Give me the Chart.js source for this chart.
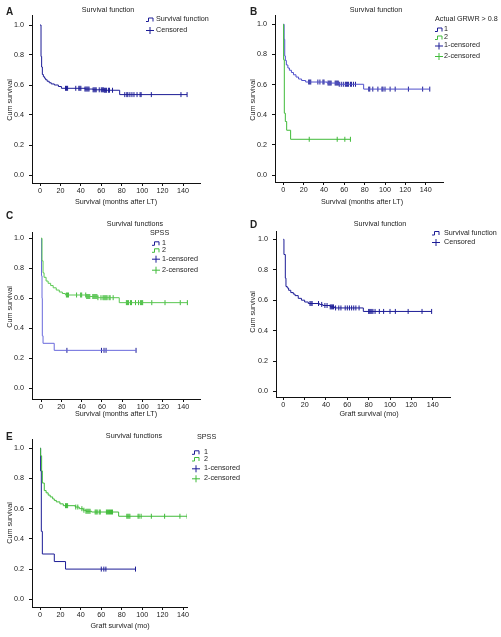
<!DOCTYPE html>
<html>
<head>
<meta charset="utf-8">
<script src="https://cdn.jsdelivr.net/npm/chart.js@4.4.1/dist/chart.umd.min.js"></script>
<style>
  html, body { margin: 0; padding: 0; background: #fff; }
  #page { position: relative; width: 501px; height: 637px; overflow: hidden; }
  canvas { position: absolute; }
</style>
</head>
<body>
<div id="page">
  <canvas id="chartA" width="250" height="210" style="left:0;top:0"></canvas>
  <canvas id="chartB" width="251" height="210" style="left:250px;top:0"></canvas>
  <canvas id="chartC" width="250" height="222" style="left:0;top:200px"></canvas>
  <canvas id="chartD" width="251" height="222" style="left:250px;top:200px"></canvas>
  <canvas id="chartE" width="250" height="232" style="left:0;top:405px"></canvas>
</div>
<script>
// --- tick labels ---
const xTicks = [0, 20, 40, 60, 80, 100, 120, 140];
const yTicks = [0, 0.2, 0.4, 0.6, 0.8, 1.0];

// --- A: overall patient survival ---
const aTimes = [0, 1, 1.6, 2.3, 3.3, 4.5, 5.5, 7, 9, 11, 14, 18, 21, 44, 52, 63, 78, 144];
const aSurv = [1, 0.79, 0.72, 0.67, 0.655, 0.645, 0.635, 0.625, 0.615, 0.607, 0.60, 0.59, 0.578, 0.573, 0.568, 0.565, 0.536, 0.536];
const aCensor = [25, 26, 27, 35, 38, 39, 40, 44, 45, 46, 47, 48, 52, 53, 54, 55, 58, 60, 61, 62, 63, 64, 65, 67, 68, 71, 83, 85, 86, 88, 90, 92, 95, 98, 99, 109, 138, 144];

// --- B: by actual GRWR > 0.8 ---
const b1Times = [0, 0.8, 1.4, 2, 3, 4.5, 6, 8, 10, 12.5, 15, 18, 22, 43, 55, 79, 144];
const b1Surv = [1, 0.9, 0.79, 0.76, 0.73, 0.71, 0.695, 0.68, 0.665, 0.65, 0.637, 0.627, 0.617, 0.61, 0.602, 0.57, 0.57];
const b1Censor = [25, 26, 27, 34, 36, 39, 40, 44, 45, 46, 47, 51, 52, 53, 54, 55, 57, 59, 61, 62, 63, 64, 66, 67, 69, 71, 84, 85, 88, 93, 97, 98, 100, 105, 110, 123, 137, 144];
const b2Times = [0, 0.3, 1, 2, 3.3, 7.2, 66];
const b2Surv = [1, 0.765, 0.41, 0.355, 0.297, 0.237, 0.237];
const b2Censor = [25.5, 53, 60.5, 66];

// --- C: patient survival by SFSS ---
const c1Times = [0, 0.5, 1, 1.3, 2, 13, 93.5];
const c1Surv = [1, 0.75, 0.6, 0.35, 0.30, 0.253, 0.253];
const c1Censor = [25.5, 59.5, 62, 64, 93.5];
const c2Times = [0, 1, 2, 3, 5, 7, 9.5, 12, 15, 18, 21, 24, 44.5, 56, 77, 144];
const c2Surv = [1, 0.85, 0.77, 0.74, 0.715, 0.7, 0.685, 0.67, 0.655, 0.642, 0.632, 0.622, 0.612, 0.604, 0.571, 0.571];
const c2Censor = [25, 26, 27, 35, 39, 40, 44, 45, 46, 47, 48, 51, 52, 53, 54, 55, 56, 59, 61, 62, 63, 64, 65, 67, 68, 71, 84, 85, 86, 88, 89, 93, 96, 98, 99, 100, 109, 122, 137, 144];

// --- D: overall graft survival ---
const dTimes = [0, 0.6, 1.9, 2.5, 3.7, 5, 7, 9.4, 11, 14, 17, 20, 23.4, 34, 37, 44, 48, 75, 139];
const dSurv = [1, 0.9, 0.745, 0.69, 0.68, 0.665, 0.65, 0.64, 0.63, 0.612, 0.60, 0.588, 0.578, 0.572, 0.565, 0.556, 0.549, 0.526, 0.526];
const dCensor = [25, 26, 27, 33, 36, 39, 41, 44, 45, 46, 47, 49, 52, 54, 58, 60, 62, 64, 66, 68, 71, 80, 81, 82, 83, 84, 86, 90, 94, 100, 105, 117, 130, 139];

// --- E: graft survival by SFSS ---
const e1Times = [0, 0.6, 1.3, 2.3, 14, 25, 93.5];
const e1Surv = [1, 0.85, 0.45, 0.30, 0.25, 0.20, 0.20];
const e1Censor = [60, 62.5, 64.5, 93.5];
const e2Times = [0, 0.6, 1.6, 2.3, 4.2, 6, 8, 10, 12.4, 14, 16, 19.5, 22.8, 34.5, 38.4, 42.3, 45, 50.5, 77, 144];
const e2Surv = [1, 0.95, 0.85, 0.77, 0.72, 0.705, 0.69, 0.678, 0.665, 0.655, 0.645, 0.632, 0.62, 0.611, 0.60, 0.59, 0.583, 0.578, 0.55, 0.55];
const e2Censor = [25, 26, 27, 35, 37, 41, 43, 45, 46, 47, 48, 49, 54, 55, 56, 58, 59, 65, 66, 67, 68, 69, 70, 71, 85, 86, 87, 88, 96, 97, 99, 109, 122, 137, 144];

const NAVY = '#1c1c96';
const FONT = 'Liberation Sans, Arial, sans-serif';
const TXT = '#222';
const FS = 7.2;

function stepAt(times, surv, t) {
    let v = surv[0];
    for (let i = 0; i < times.length; i++) if (times[i] <= t) v = surv[i];
    return v;
}

function curve(times, surv, color) {
    return {
        data: times.map((t, i) => ({ x: t, y: surv[i] })),
        stepped: true, borderColor: color, borderWidth: 1,
        pointRadius: 0, fill: false
    };
}
function censored(times, surv, cens, color) {
    return {
        data: cens.map(t => ({ x: t, y: stepAt(times, surv, t) })),
        showLine: false, pointStyle: 'line', rotation: 90,
        pointRadius: 2.5, borderColor: color, borderWidth: 1
    };
}

// draws panel letter, title, axis titles and SPSS-like legend
const panelText = {
    id: 'panelText',
    afterDraw(chart, args, o) {
        const ctx = chart.ctx;
        ctx.save();
        ctx.fillStyle = TXT;
        ctx.textBaseline = 'middle';
        ctx.font = 'bold 10px ' + FONT;
        ctx.textAlign = 'left';
        ctx.fillText(o.letter.t, o.letter.x, o.letter.y);
        ctx.font = FS + 'px ' + FONT;
        ctx.textAlign = 'center';
        ctx.fillText(o.title.t, o.title.x, o.title.y);
        ctx.fillText(o.xTitle.t, o.xTitle.x, o.xTitle.y);
        ctx.save();
        ctx.translate(o.yTitle.x, o.yTitle.y);
        ctx.rotate(-Math.PI / 2);
        ctx.fillText('Cum survival', 0, 0);
        ctx.restore();
        const lg = o.legend;
        ctx.textAlign = 'left';
        if (lg.title) ctx.fillText(lg.title, lg.titleX, lg.titleY);
        lg.rows.forEach(r => {
            ctx.strokeStyle = r.color;
            ctx.lineWidth = 1;
            ctx.beginPath();
            const x = lg.x, y = r.y;
            if (r.kind === 'step') {
                ctx.moveTo(x, y + 2); ctx.lineTo(x + 2.5, y + 2); ctx.lineTo(x + 2.5, y - 1.5);
                ctx.lineTo(x + 7, y - 1.5); ctx.lineTo(x + 7, y + 2);
            } else {
                ctx.moveTo(x, y + 0.5); ctx.lineTo(x + 8, y + 0.5);
                ctx.moveTo(x + 4, y - 3); ctx.lineTo(x + 4, y + 4);
            }
            ctx.stroke();
            ctx.fillText(r.label, lg.tx, y);
        });
        ctx.restore();
    }
};

function makePanel(id, g, datasets, text) {
    const canvas = document.getElementById(id);
    const w = canvas.width, h = canvas.height;
    const yUnit = g.y0px - g.y1px;
    const xUnit = (g.x140px - g.x0px) / 140;
    const axisColor = '#111';
    const common = {
        grid: { display: true, drawOnChartArea: false, drawTicks: true, tickLength: 3, color: axisColor, lineWidth: 1 },
        border: { display: true, color: axisColor, width: 1 }
    };
    return new Chart(canvas, {
        type: 'line',
        data: { datasets: datasets },
        options: {
            responsive: false,
            animation: false,
            layout: { padding: { left: 0, top: g.t, right: w - g.r, bottom: 0 } },
            plugins: { legend: { display: false }, tooltip: { enabled: false }, panelText: text },
            scales: {
                x: Object.assign({
                    type: 'linear',
                    min: -(g.x0px - g.l) / xUnit,
                    max: (g.r - g.x0px) / xUnit,
                    afterBuildTicks: s => { s.ticks = xTicks.map(v => ({ value: v })); },
                    afterFit: s => { s.height = h - g.b; },
                    ticks: { font: { family: FONT, size: FS }, color: TXT, padding: 1, maxRotation: 0, autoSkip: false }
                }, common),
                y: Object.assign({
                    type: 'linear',
                    min: -(g.b - g.y0px) / yUnit,
                    max: 1 + (g.y1px - g.t) / yUnit,
                    afterBuildTicks: s => { s.ticks = yTicks.map(v => ({ value: v })); },
                    afterFit: s => { s.width = g.l; },
                    ticks: { font: { family: FONT, size: FS }, color: TXT, padding: 5, callback: v => v.toFixed(1) }
                }, common)
            }
        },
        plugins: [panelText]
    });
}

const BLUE_LIGHT = '#5050cc';
const GREEN = '#40bb3a';
const GREEN_LIGHT = '#5ac852';

makePanel('chartA',
    { l: 32, r: 200, t: 15, b: 183, y1px: 25, y0px: 175, x0px: 40, x140px: 183 },
    [curve(aTimes, aSurv, NAVY), censored(aTimes, aSurv, aCensor, NAVY)],
    {
        letter: { t: 'A', x: 6, y: 12 }, title: { t: 'Survival function', x: 108, y: 10 },
        xTitle: { t: 'Survival (months after LT)', x: 116, y: 202 }, yTitle: { x: 10, y: 100 },
        legend: { x: 146, tx: 156, rows: [
            { kind: 'step', color: NAVY, label: 'Survival function', y: 19.5 },
            { kind: 'cross', color: NAVY, label: 'Censored', y: 30 }] }
    });

makePanel('chartB',
    { l: 25, r: 193, t: 15, b: 182, y1px: 24.3, y0px: 175, x0px: 33.3, x140px: 175.7 },
    [curve(b2Times, b2Surv, GREEN), curve(b1Times, b1Surv, BLUE_LIGHT),
     censored(b1Times, b1Surv, b1Censor, NAVY), censored(b2Times, b2Surv, b2Censor, GREEN)],
    {
        letter: { t: 'B', x: 0, y: 12 }, title: { t: 'Survival function', x: 126, y: 10 },
        xTitle: { t: 'Survival (months after LT)', x: 112, y: 202 }, yTitle: { x: 3, y: 100 },
        legend: { title: 'Actual GRWR > 0.8', titleX: 185, titleY: 19.5, x: 185, tx: 194, rows: [
            { kind: 'step', color: NAVY, label: '1', y: 29.5 },
            { kind: 'step', color: GREEN, label: '2', y: 37.5 },
            { kind: 'cross', color: NAVY, label: '1-censored', y: 45.5 },
            { kind: 'cross', color: GREEN, label: '2-censored', y: 56 }] }
    });

makePanel('chartC',
    { l: 32, r: 200, t: 32, b: 199, y1px: 38.3, y0px: 188.3, x0px: 41, x140px: 183.3 },
    [curve(c2Times, c2Surv, GREEN_LIGHT), curve(c1Times, c1Surv, '#6a6adc'),
     censored(c1Times, c1Surv, c1Censor, NAVY), censored(c2Times, c2Surv, c2Censor, GREEN)],
    {
        letter: { t: 'C', x: 6, y: 16 }, title: { t: 'Survival functions', x: 135, y: 24 },
        xTitle: { t: 'Survival (months after LT)', x: 116, y: 214 }, yTitle: { x: 10, y: 107 },
        legend: { title: 'SPSS', titleX: 150, titleY: 33.3, x: 152, tx: 162, rows: [
            { kind: 'step', color: NAVY, label: '1', y: 43.3 },
            { kind: 'step', color: GREEN, label: '2', y: 50.3 },
            { kind: 'cross', color: NAVY, label: '1-censored', y: 58.7 },
            { kind: 'cross', color: GREEN, label: '2-censored', y: 69.7 }] }
    });

makePanel('chartD',
    { l: 26, r: 200, t: 31, b: 197, y1px: 39.3, y0px: 191.5, x0px: 33.3, x140px: 182.7 },
    [curve(dTimes, dSurv, NAVY), censored(dTimes, dSurv, dCensor, NAVY)],
    {
        letter: { t: 'D', x: 0, y: 25 }, title: { t: 'Survival function', x: 130, y: 24 },
        xTitle: { t: 'Graft survival (mo)', x: 119, y: 214 }, yTitle: { x: 3, y: 112 },
        legend: { x: 182, tx: 194, rows: [
            { kind: 'step', color: NAVY, label: 'Survival function', y: 33 },
            { kind: 'cross', color: NAVY, label: 'Censored', y: 42 }] }
    });

makePanel('chartE',
    { l: 32, r: 187, t: 34, b: 202, y1px: 43.3, y0px: 194.3, x0px: 40, x140px: 183 },
    [curve(e2Times, e2Surv, GREEN), curve(e1Times, e1Surv, NAVY),
     censored(e1Times, e1Surv, e1Censor, NAVY), censored(e2Times, e2Surv, e2Censor, GREEN)],
    {
        letter: { t: 'E', x: 6, y: 32 }, title: { t: 'Survival functions', x: 134, y: 31 },
        xTitle: { t: 'Graft survival (mo)', x: 120, y: 221 }, yTitle: { x: 10, y: 118 },
        legend: { title: 'SPSS', titleX: 197, titleY: 31.7, x: 192, tx: 204, rows: [
            { kind: 'step', color: NAVY, label: '1', y: 47.3 },
            { kind: 'step', color: GREEN, label: '2', y: 54 },
            { kind: 'cross', color: NAVY, label: '1-censored', y: 63.3 },
            { kind: 'cross', color: GREEN, label: '2-censored', y: 73.3 }] }
    });
</script>
</body>
</html>
